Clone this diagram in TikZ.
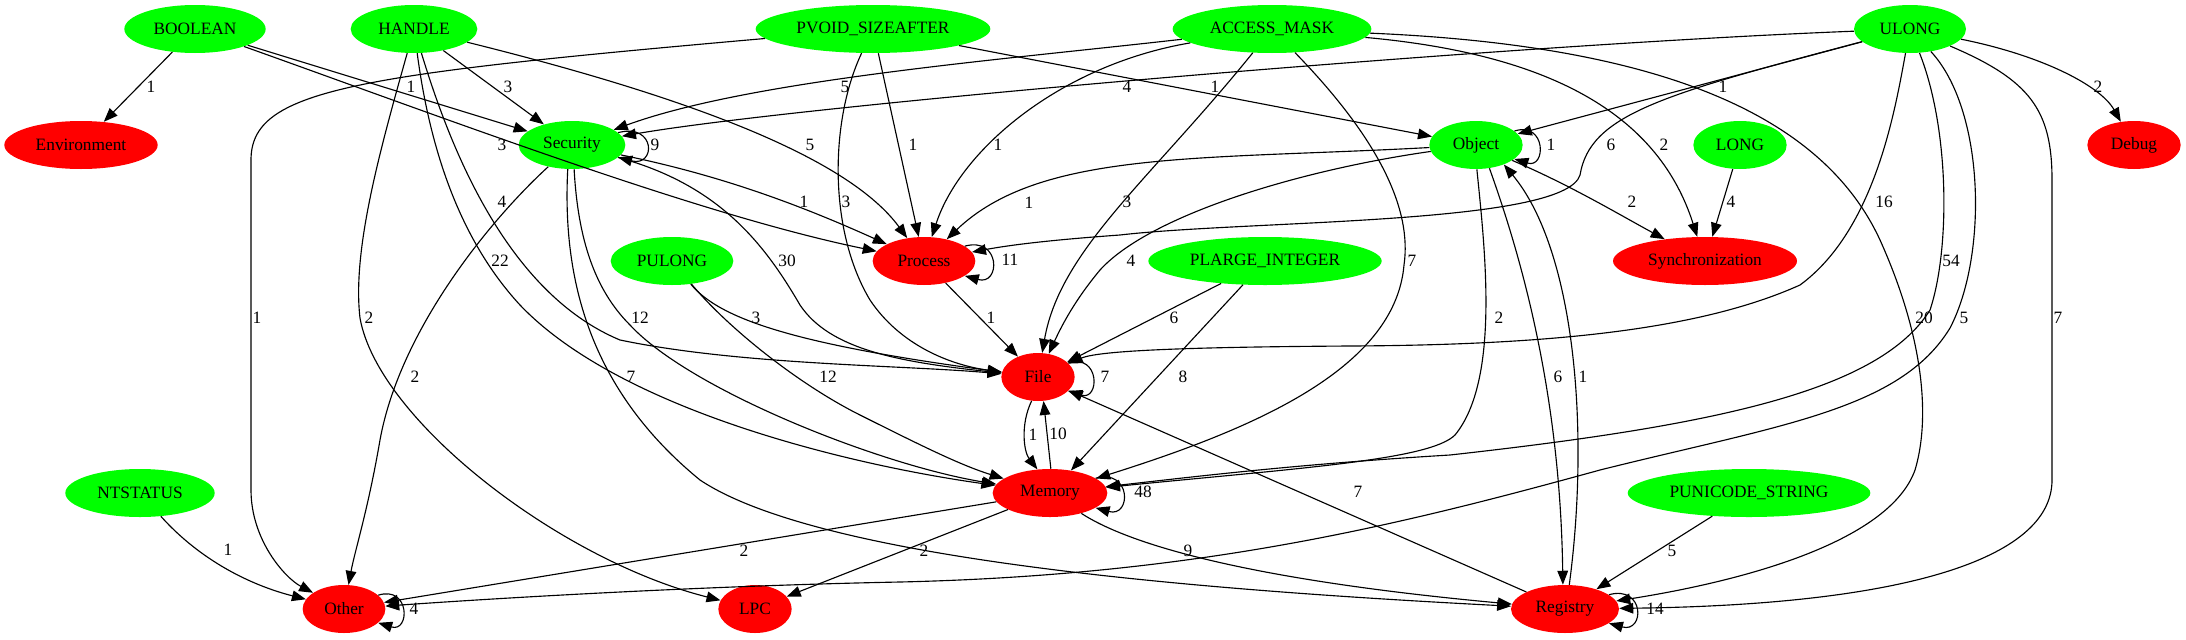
\documentclass[tikz,border=0pt]{standalone}
\usepackage{fontspec}
\setmainfont{Liberation Serif}
\usetikzlibrary{shapes.geometric,arrows.meta}
\definecolor{typegreen}{RGB}{0,255,0}
\definecolor{groupred}{RGB}{255,0,0}
\begin{document}
\begin{tikzpicture}[x=0.75pt, y=-0.75pt,
  every node/.style={font=\fontsize{13}{15}\selectfont},
  argtype/.style={ellipse, fill=typegreen, inner sep=0pt, minimum height=36pt},
  apigroup/.style={ellipse, fill=groupred, inner sep=0pt, minimum height=36pt},
  lbl/.style={inner sep=0pt},
  dep/.style={-{Triangle[length=10.5pt,width=8pt]}, line width=0.85pt}]
\useasboundingbox (0,0) rectangle (2186,639);

\node[argtype, minimum width=106pt] (boolean) at (195,29) {BOOLEAN};
\node[argtype, minimum width=95pt] (handle) at (414,29) {HANDLE};
\node[argtype, minimum width=176pt] (pvoid) at (873,29) {PVOID\_SIZEAFTER};
\node[argtype, minimum width=149pt] (accessmask) at (1272,29) {ACCESS\_MASK};
\node[argtype, minimum width=84pt] (ulong) at (1910,29) {ULONG};
\node[apigroup, minimum width=115pt] (environment) at (81,145) {Environment};
\node[argtype, minimum width=80pt] (security) at (572,145) {Security};
\node[argtype, minimum width=70pt] (object) at (1476,145) {Object};
\node[argtype, minimum width=70pt] (long) at (1740,145) {LONG};
\node[apigroup, minimum width=70pt] (debug) at (2134,145) {Debug};
\node[argtype, minimum width=92pt] (pulong) at (672,261) {PULONG};
\node[apigroup, minimum width=77pt] (process) at (924,261) {Process};
\node[argtype, minimum width=175pt] (plarge) at (1265,261) {PLARGE\_INTEGER};
\node[apigroup, minimum width=138pt] (sync) at (1705,261) {Synchronization};
\node[apigroup, minimum width=55pt] (file) at (1038,377) {File};
\node[argtype, minimum width=112pt] (ntstatus) at (140,493) {NTSTATUS};
\node[apigroup, minimum width=86pt] (memory) at (1050,493) {Memory};
\node[argtype, minimum width=182pt] (punicode) at (1749,493) {PUNICODE\_STRING};
\node[apigroup, minimum width=62pt] (other) at (344,609) {Other};
\node[apigroup, minimum width=55pt] (lpc) at (755,609) {LPC};
\node[apigroup, minimum width=81pt] (registry) at (1565,609) {Registry};

\draw[dep] (boolean) -- (environment);
\node[lbl] (l-bool-env) at (151,87) {1};
\draw[dep] (boolean) -- (security);
\node[lbl] (l-bool-sec) at (411,87) {1};
\draw[dep] (handle) -- (security);
\node[lbl] (l-hdl-sec) at (508,87) {3};
\draw[dep] (accessmask) .. controls (1000,60) and (750,80) .. (security);
\node[lbl] (l-acc-sec) at (845,87) {5};
\draw[dep] (ulong) .. controls (1500,45) and (800,105) .. (security);
\node[lbl] (l-ul-sec) at (1127,87) {4};
\draw[dep] (pvoid) -- (object);
\node[lbl] (l-pv-obj) at (1215,87) {1};
\draw[dep] (ulong) -- (object);
\node[lbl] (l-ul-obj) at (1723,87) {1};
\draw[dep] (ulong) .. controls (2040,55) and (2100,85) .. (debug);
\node[lbl] (l-ul-dbg) at (2098,87) {2};

\draw[dep] (boolean) .. controls (450,120) and (700,215) .. (process);
\node[lbl] (l-bool-proc) at (502,145) {3};
\draw[dep] (handle) .. controls (700,100) and (850,160) .. (process);
\node[lbl] (l-hdl-proc) at (810,145) {5};
\draw[dep] (pvoid) -- (process);
\node[lbl] (l-pv-proc) at (913,145) {1};
\draw[dep] (accessmask) .. controls (1060,65) and (960,150) .. (process);
\node[lbl] (l-acc-proc) at (998,145) {1};
\draw[dep] (ulong) .. controls (1660,95) and (1590,115) .. (1580,175) .. controls (1565,225) and (1250,220) .. (1120,235) .. controls (1050,240) and (1010,245) .. (process);
\node[lbl] (l-ul-proc) at (1611,145) {6};
\draw[dep] (accessmask) .. controls (1560,55) and (1660,120) .. (sync);
\node[lbl] (l-acc-sync) at (1664,145) {2};

\draw[dep] (handle) .. controls (445,130) and (500,290) .. (620,340) .. controls (740,365) and (900,365) .. (file);
\node[lbl] (l-hdl-file) at (502,202) {4};
\draw[dep] (handle) .. controls (430,150) and (460,240) .. (520,305) .. controls (620,410) and (850,465) .. (memory);
\node[lbl] (l-hdl-mem) at (500,261) {22};
\draw[dep] (handle) .. controls (380,150) and (352,250) .. (360,318) .. controls (378,420) and (560,560) .. (lpc);
\node[lbl] (l-hdl-lpc) at (369,318) {2};
\draw[dep] (pvoid) .. controls (350,75) and (251,90) .. (251,160) -- (251,490) .. controls (251,540) and (285,578) .. (other);
\node[lbl] (l-pv-oth) at (257,318) {1};
\draw[dep] (pvoid) .. controls (830,120) and (828,230) .. (870,300) .. controls (900,345) and (950,365) .. (file);
\node[lbl] (l-pv-file) at (846,202) {3};
\draw[dep] (accessmask) .. controls (1150,180) and (1060,250) .. (file);
\node[lbl] (l-acc-file) at (1127,202) {3};
\draw[dep] (accessmask) .. controls (1380,140) and (1412,210) .. (1404,265) .. controls (1395,370) and (1250,430) .. (memory);
\node[lbl] (l-acc-mem) at (1412,261) {7};
\draw[dep] (accessmask) .. controls (1650,45) and (1820,110) .. (1880,240) .. controls (1925,340) and (1930,420) .. (1915,470) .. controls (1890,540) and (1750,580) .. (registry);
\node[lbl] (l-acc-reg) at (1924,318) {20};

\draw[dep] (ulong) .. controls (1895,110) and (1875,230) .. (1800,285) .. controls (1700,330) and (1550,345) .. (1350,346) .. controls (1200,347) and (1100,350) .. (file);
\node[lbl] (l-ul-file) at (1884,202) {16};
\draw[dep] (ulong) .. controls (1950,130) and (1950,250) .. (1930,310) .. controls (1880,390) and (1720,425) .. (1450,455) .. controls (1300,464) and (1200,476) .. (memory);
\node[lbl] (l-ul-mem) at (1951,261) {54};
\draw[dep] (ulong) .. controls (1985,110) and (1988,255) .. (1950,328) .. controls (1900,410) and (1780,425) .. (1600,470) .. controls (1400,525) and (1200,575) .. (900,582) .. controls (700,586) and (500,598) .. (other);
\node[lbl] (l-ul-oth) at (1964,318) {5};
\draw[dep] (ulong) .. controls (2030,80) and (2052,110) .. (2052,180) -- (2052,480) .. controls (2052,560) and (1900,605) .. (registry);
\node[lbl] (l-ul-reg) at (2058,318) {7};

\draw[dep] (security.15) .. controls +(38,-10) and +(38,10) .. (security.-15);
\node[lbl] (l-sec-sec) at (655,145) {9};
\draw[dep] (object.20) .. controls +(32,-10) and +(32,10) .. (object.-20);
\node[lbl] (l-obj-obj) at (1551,145) {1};
\draw[dep] (process.20) .. controls +(36,-10) and +(36,10) .. (process.-20);
\node[lbl] (l-proc-proc) at (1010,260) {11};
\draw[dep] (file.25) .. controls +(32,-10) and +(32,10) .. (file.-25);
\node[lbl] (l-file-file) at (1105,377) {7};
\draw[dep] (memory.18) .. controls +(36,-10) and +(36,10) .. (memory.-18);
\node[lbl] (l-mem-mem) at (1143,492) {48};
\draw[dep] (other.22) .. controls +(32,-10) and +(32,10) .. (other.-22);
\node[lbl] (l-oth-oth) at (414,609) {4};
\draw[dep] (registry.18) .. controls +(36,-10) and +(36,10) .. (registry.-18);
\node[lbl] (l-reg-reg) at (1655,609) {14};

\draw[dep] (security) .. controls (720,175) and (800,205) .. (process);
\node[lbl] (l-sec-proc) at (804,202) {1};
\draw[dep] (security) .. controls (720,185) and (765,245) .. (800,305) .. controls (830,350) and (900,362) .. (file);
\node[lbl] (l-sec-file) at (787,261) {30};
\draw[dep] (security.-85) .. controls (578,240) and (595,290) .. (630,325) .. controls (690,390) and (880,465) .. (memory);
\node[lbl] (l-sec-mem) at (640,318) {12};
\draw[dep] (security) .. controls (490,220) and (400,330) .. (380,440) .. controls (368,510) and (355,550) .. (other);
\node[lbl] (l-sec-oth) at (415,377) {2};
\draw[dep] (security.-100) .. controls (562,280) and (590,390) .. (700,480) .. controls (820,560) and (1200,590) .. (registry);
\node[lbl] (l-sec-reg) at (631,377) {7};

\draw[dep] (object) .. controls (1200,160) and (1040,150) .. (process);
\node[lbl] (l-obj-proc) at (1029,203) {1};
\draw[dep] (object) .. controls (1300,170) and (1150,215) .. (1100,270) .. controls (1075,300) and (1062,325) .. (file);
\node[lbl] (l-obj-file) at (1131,261) {4};
\draw[dep] (object) .. controls (1570,185) and (1620,215) .. (sync);
\node[lbl] (l-obj-sync) at (1632,202) {2};
\draw[dep] (object.-88) .. controls (1485,250) and (1500,380) .. (1455,435) .. controls (1430,460) and (1300,468) .. (memory);
\node[lbl] (l-obj-mem) at (1499,318) {2};
\draw[dep] (object.-60) .. controls (1515,240) and (1560,380) .. (registry.95);
\node[lbl] (l-obj-reg) at (1558,377) {6};
\draw[dep] (registry.80) .. controls (1590,430) and (1575,250) .. (object.-35);
\node[lbl] (l-reg-obj) at (1583,377) {1};

\draw[dep] (long) -- (sync);
\node[lbl] (l-long-sync) at (1731,202) {4};
\draw[dep] (pulong) .. controls (720,320) and (800,345) .. (file);
\node[lbl] (l-pul-file) at (756,318) {3};
\draw[dep] (pulong) .. controls (730,330) and (800,385) .. (860,415) .. controls (920,445) and (960,465) .. (memory);
\node[lbl] (l-pul-mem) at (828,377) {12};
\draw[dep] (process) -- (file);
\node[lbl] (l-proc-file) at (991,318) {1};
\draw[dep] (plarge) -- (file);
\node[lbl] (l-pl-file) at (1174,318) {6};
\draw[dep] (plarge) -- (memory);
\node[lbl] (l-pl-mem) at (1183,377) {8};

\draw[dep] (file.255) .. controls (1020,425) and (1024,452) .. (memory.118);
\node[lbl] (l-file-mem) at (1033,435) {1};
\draw[dep] (memory.88) -- (file.283);
\node[lbl] (l-mem-file) at (1058,434) {10};
\draw[dep] (memory) -- (other);
\node[lbl] (l-mem-oth) at (744,551) {2};
\draw[dep] (memory) -- (lpc);
\node[lbl] (l-mem-lpc) at (924,551) {2};
\draw[dep] (memory) .. controls (1130,545) and (1250,580) .. (registry);
\node[lbl] (l-mem-reg) at (1188,551) {9};
\draw[dep] (registry) -- (file);
\node[lbl] (l-reg-file) at (1358,492) {7};
\draw[dep] (ntstatus) .. controls (200,560) and (250,585) .. (other);
\node[lbl] (l-nt-oth) at (228,550) {1};
\draw[dep] (punicode) -- (registry);
\node[lbl] (l-puni-reg) at (1672,551) {5};
\end{tikzpicture}
\end{document}
